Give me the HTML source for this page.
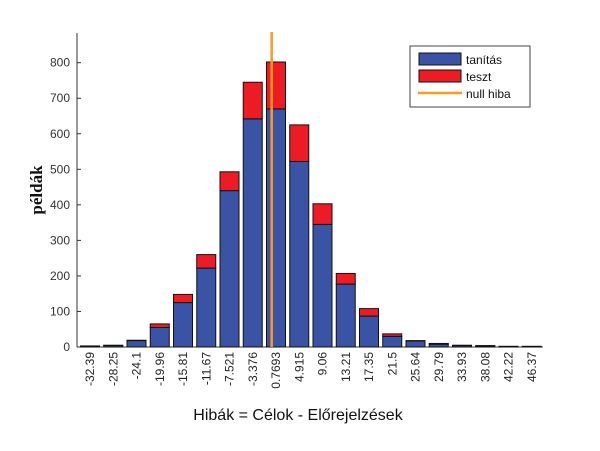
<!DOCTYPE html>
<html><head><meta charset="utf-8"><style>
body{margin:0;background:#fff;}
svg{display:block;font-family:"Liberation Sans",sans-serif;}
</style></head><body>
<svg width="600" height="451" id="c"></svg>
<script>
const categories=["-32.39","-28.25","-24.1","-19.96","-15.81","-11.67","-7.521","-3.376","0.7693","4.915","9.06","13.21","17.35","21.5","25.64","29.79","33.93","38.08","42.22","46.37"];
const train=[2,4,18,55,125,222,440,642,670,522,345,177,87,30,17,8,4,3,2,2];
const test=[1,1,1,10,23,38,53,103,132,103,58,30,21,7,1,2,1,1,0,0];
const yTicks=[0,100,200,300,400,500,600,700,800];
const nullValue=0;
const NS="http://www.w3.org/2000/svg";
const svg=document.getElementById('c');
const x0=90,step=23.25,bw=19,y0=347,yScale=(347-62.7)/800;
const X=i=>x0+i*step;
const Y=v=>y0-v*yScale;
function el(t,a,p){const e=document.createElementNS(NS,t);for(const k in a)e.setAttribute(k,a[k]);(p||svg).appendChild(e);return e;}
// axes
let ax=el('line',{x1:77,y1:33,x2:77,y2:347,stroke:'#333','stroke-width':1});


ax=el('line',{x1:77,y1:347,x2:543,y2:347,stroke:'#333','stroke-width':1});


yTicks.forEach(v=>{
 const t=el('text',{x:70,y:Y(v)+4,'text-anchor':'end','font-size':12,fill:'#333'});t.textContent=v;
 
 
 el('line',{x1:77,y1:Y(v),x2:81,y2:Y(v),stroke:'#333'});
});
categories.forEach((c,i)=>{
 const cx=X(i);
 const b=el('rect',{x:cx-bw/2,y:Y(train[i]),width:bw,height:train[i]*yScale,fill:'#3a53a4',stroke:'#111','stroke-width':1});
 
 
 if(test[i]>0){
  const r=el('rect',{x:cx-bw/2,y:Y(train[i]+test[i]),width:bw,height:test[i]*yScale,fill:'#ed1c24',stroke:'#111','stroke-width':1});
  
  
 }
 const t=el('text',{transform:`translate(${cx+4},352) rotate(-90)`,'text-anchor':'end','font-size':12,fill:'#222'});t.textContent=c;
 
 
});
// null line: position value between category centers
const vals=categories.map(Number);
let k=0;while(k<vals.length-2&&vals[k+1]<nullValue)k++;
const nx=X(k+(nullValue-vals[k])/(vals[k+1]-vals[k]));
const nl=el('line',{x1:nx,y1:32,x2:nx,y2:347,stroke:'#ff9a1a','stroke-width':2.5});


</script>
<script>
(function(){
const svg=document.getElementById('c');const NS="http://www.w3.org/2000/svg";
function el(t,a,p){const e=document.createElementNS(NS,t);for(const k in a)e.setAttribute(k,a[k]);(p||svg).appendChild(e);return e;}
const g=el('g',{});


el('rect',{x:410,y:46,width:120,height:61,fill:'#fff',stroke:'#444','stroke-width':1},g);
el('rect',{x:419,y:53,width:42,height:12,fill:'#3a53a4',stroke:'#111'},g);
el('rect',{x:419,y:70,width:42,height:12,fill:'#ed1c24',stroke:'#111'},g);
el('line',{x1:418,y1:93,x2:462,y2:93,stroke:'#ff9a1a','stroke-width':2.5},g);
[['tanítás',64],['teszt',81],['null hiba',98]].forEach(([s,y])=>{const t=el('text',{x:466,y:y,'font-size':12,fill:'#111'},g);t.textContent=s;

});
const xl=el('text',{x:298,y:420,'text-anchor':'middle','font-size':16,fill:'#111'});xl.textContent='Hibák = Célok - Előrejelzések';


const yl=el('text',{transform:'translate(42,190) rotate(-90)','text-anchor':'middle','font-size':17,'font-weight':'bold','font-family':'"Liberation Serif",serif',fill:'#111'});yl.textContent='példák';


})();
</script>
</body></html>
